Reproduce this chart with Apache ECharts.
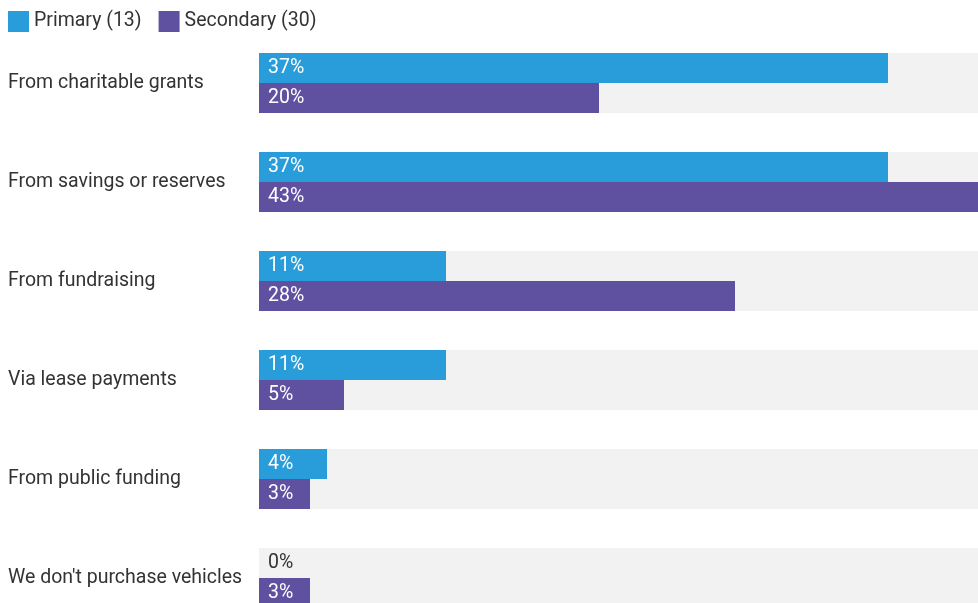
<!DOCTYPE html>
<html>
<head>
<meta charset="utf-8">
<script src="https://cdn.jsdelivr.net/npm/echarts@6/dist/echarts.min.js"></script>
<style>
  html, body { margin: 0; padding: 0; background: #ffffff; }
  #chart { width: 978px; height: 603px; }
</style>
</head>
<body>
<div id="chart"></div>
<script>
// Funding sources for vehicle purchases, by school type (percent of respondents)
const categories = [
  'From charitable grants',
  'From savings or reserves',
  'From fundraising',
  'Via lease payments',
  'From public funding',
  "We don't purchase vehicles"
];
const primaryValues = [37, 37, 11, 11, 4, 0];
const secondaryValues = [20, 43, 28, 5, 3, 3];
const seriesNames = ['Primary (13)', 'Secondary (30)'];

const COLORS = ['#289dd9', '#5f51a0'];
const FONT = 'Roboto';

function toItems(values) {
  return values.map(v => v === 0
    ? { value: v, label: { color: '#333333' } }
    : v);
}

function makeSeries(name, values, color) {
  return {
    name: name,
    type: 'bar',
    data: toItems(values),
    barWidth: 30,
    barGap: '0%',
    itemStyle: { color: color },
    showBackground: true,
    backgroundStyle: { color: '#f2f2f2' },
    label: {
      show: true,
      position: 'insideLeft',
      distance: 9,
      color: '#ffffff',
      fontFamily: FONT,
      fontSize: 19.5,
      padding: [3, 0, 0, 0],
      formatter: p => p.value + '%'
    },
    animation: false
  };
}

const chart = echarts.init(document.getElementById('chart'), null, { renderer: 'canvas' });
chart.setOption({
  animation: false,
  textStyle: { fontFamily: FONT },
  legend: {
    left: 8,
    top: 11,
    padding: 0,
    itemWidth: 21,
    itemHeight: 21,
    itemGap: 17,
    icon: 'rect',
    textStyle: { fontFamily: FONT, fontSize: 19.5, color: '#333333', padding: [2, 0, 0, 0] },
    data: seriesNames
  },
  // the plotting area runs past the right and bottom edges of the canvas
  grid: {
    left: 259,
    top: 33.5,
    width: 1700,
    height: 594,
    containLabel: false,
    outerBoundsMode: 'none'
  },
  xAxis: {
    type: 'value',
    min: 0,
    max: 100,
    show: false
  },
  yAxis: {
    type: 'category',
    data: categories,
    inverse: true,
    axisLine: { show: false },
    axisTick: { show: false },
    axisLabel: {
      align: 'left',
      margin: 251,
      color: '#333333',
      fontFamily: FONT,
      fontSize: 19.5,
      padding: [3, 0, 0, 0]
    }
  },
  series: [
    makeSeries(seriesNames[0], primaryValues, COLORS[0]),
    makeSeries(seriesNames[1], secondaryValues, COLORS[1])
  ]
});
</script>
</body>
</html>
